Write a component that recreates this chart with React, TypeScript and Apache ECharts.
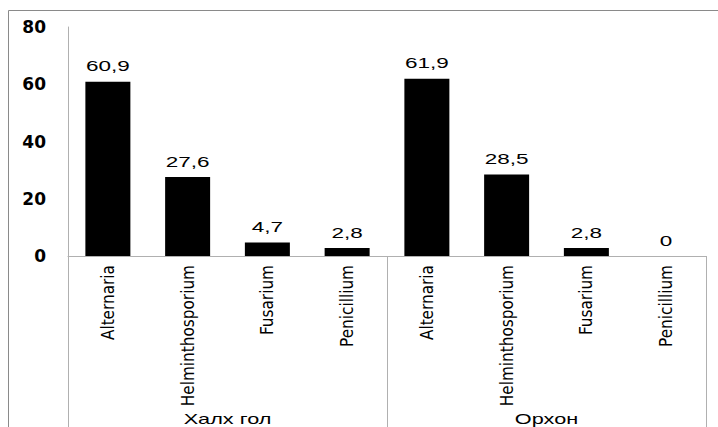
import React, { useEffect, useRef } from "react";
import * as echarts from "echarts";

// Fungal genera recorded at each site (%)
const genera = [
  "Alternaria", "Helminthosporium", "Fusarium", "Penicillium",
  "Alternaria", "Helminthosporium", "Fusarium", "Penicillium",
];
const sites = ["Халх гол", "Орхон"];
const khalkhGolValues = [60.9, 27.6, 4.7, 2.8];
const orkhonValues = [61.9, 28.5, 2.8, 0];
const yTicks = [0, 20, 40, 60, 80];

const values = [...khalkhGolValues, ...orkhonValues];
const fmt = (v: number) => String(v).replace(".", ",");

const AXIS_GRAY = "#b0b0b0";
const FRAME_GRAY = "#8a8a8a";

export default function App() {
  const ref = useRef<HTMLDivElement>(null);

  useEffect(() => {
    if (!ref.current) return;
    const chart = echarts.init(ref.current, undefined, { renderer: "svg" });
    chart.setOption({
      animation: false,
      backgroundColor: "#ffffff",
      grid: { left: 68, right: 12, top: 27, bottom: 171 },
      xAxis: [
        {
          type: "category",
          data: genera,
          axisLine: { show: true, lineStyle: { color: AXIS_GRAY, width: 1 } },
          axisTick: { show: false },
          axisLabel: {
            interval: 0,
            rotate: 90,
            margin: 9,
            color: "#000",
            fontSize: 17,
            fontFamily: "'DejaVu Sans Condensed', 'Liberation Sans', sans-serif",
          },
        },
        {
          type: "category",
          position: "bottom",
          data: sites,
          axisLine: { show: false },
          axisTick: {
            show: true,
            length: 180,
            lineStyle: { color: AXIS_GRAY, width: 1 },
          },
          axisLabel: { show: false },
        },
      ],
      yAxis: {
        type: "value",
        min: yTicks[0],
        max: yTicks[yTicks.length - 1],
        interval: 20,
        splitLine: { show: false },
        axisTick: { show: false },
        axisLine: { show: true, lineStyle: { color: AXIS_GRAY, width: 1 } },
        axisLabel: {
          margin: 22,
          color: "#000",
          fontSize: 17,
          fontWeight: "bold",
          fontFamily: "'DejaVu Sans', sans-serif",
        },
      },
      series: [
        {
          type: "bar",
          xAxisIndex: 0,
          data: values,
          barWidth: 45,
          itemStyle: { color: "#000" },
        },
        {
          type: "custom",
          xAxisIndex: 0,
          data: values.map((v, i) => [i, v]),
          renderItem: (_params: any, api: any) => {
            const p = api.coord([api.value(0), api.value(1)]);
            return {
              type: "text",
              x: p[0],
              y: p[1] - 8,
              scaleX: 1.5,
              style: {
                text: fmt(api.value(1)),
                fontSize: 15,
                fontFamily: "'Liberation Sans', Arial, sans-serif",
                fill: "#000",
                align: "center",
                verticalAlign: "bottom",
              },
            };
          },
        },
      ],
    });

    // Site names under each group of genera, with the chart frame
    const siteLabels = sites.map((name, i) => {
      const cx = chart.convertToPixel({ xAxisIndex: 1 }, i) as number;
      return {
        type: "text",
        x: cx,
        y: 419,
        scaleX: 1.55,
        style: {
          text: name,
          fontSize: 14,
          fontFamily: "'Liberation Sans', Arial, sans-serif",
          fill: "#000",
          align: "center",
          verticalAlign: "middle",
        },
      };
    });
    chart.setOption({
      graphic: [
        {
          type: "rect",
          shape: { x: 8.5, y: 10.5, width: 730, height: 440 },
          style: { fill: "none", stroke: FRAME_GRAY, lineWidth: 1 },
          silent: true,
        },
        ...siteLabels,
      ],
    });

    return () => chart.dispose();
  }, []);

  return (
    <div
      ref={ref}
      style={{ position: "fixed", left: 0, top: 0, width: 718, height: 427 }}
    />
  );
}
